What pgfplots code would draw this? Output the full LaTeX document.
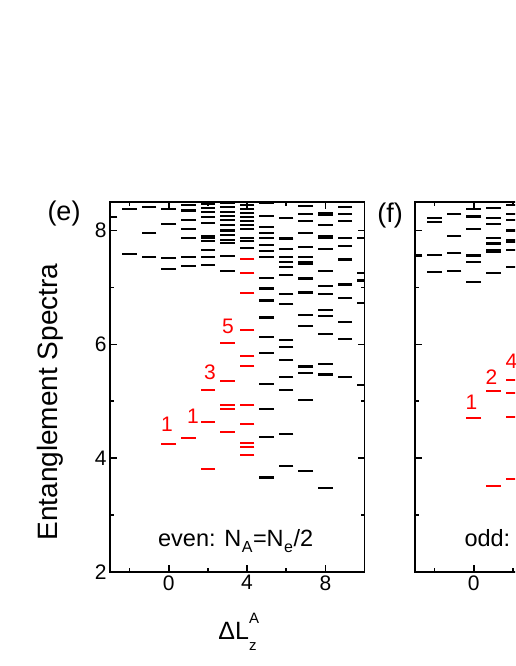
\documentclass[border=0pt]{standalone}
\usepackage{fontspec}
\setmainfont{Liberation Sans}
\usepackage{pgfplots}
\pgfplotsset{compat=1.18}
\pgfplotsset{
  espec/.style={
    scale only axis, width=254.5pt, height=370pt,
    xmin=-3, xmax=10, ymin=2, ymax=8.5,
    xtick={0,4,8}, minor xtick={-2,2,6},
    ytick={2,4,6,8}, minor ytick={3,5,7},
    tick align=inside,
    major tick length=7pt, minor tick length=4pt,
    axis line style={line width=1.8pt},
    every tick/.style={line width=1.6pt, black},
    tick label style={font=\fontsize{21}{21}\selectfont},
    /pgf/number format/assume math mode=true,
    clip marker paths=true,
  },
  dash/.style={only marks, mark=-, mark size=7.3pt, mark options={line width=2.1pt}},
}
\newcommand{\sub}[1]{\kern0.5pt\raisebox{-6pt}{\fontsize{16}{16}\selectfont #1}\kern0.5pt}
\begin{document}
\begin{tikzpicture}
\useasboundingbox (0pt,0pt) rectangle (515pt,666pt);
\clip (0pt,0pt) rectangle (515pt,666pt);
% ---------------- panel (e)
\begin{axis}[espec, at={(110pt,94pt)}, anchor=south west]
\addplot[dash, black] coordinates {
(-3,8.23)
(-2,8.37) (-2,7.59)
(-1,8.41) (-1,7.95) (-1,7.54)
(0,8.38) (0,8.11) (0,7.52) (0,7.33)
(1,8.44) (1,8.35) (1,8.18) (1,8.03) (1,7.87) (1,7.53) (1,7.37)
(2,8.46) (2,8.40) (2,8.32) (2,8.23) (2,8.13) (2,7.91) (2,7.87) (2,7.82) (2,7.65) (2,7.53) (2,7.39)
(3,8.49) (3,8.41) (3,8.33) (3,8.25) (3,8.18) (3,8.10) (3,8.00) (3,7.92) (3,7.84) (3,7.78) (3,7.55) (3,7.29)
(4,8.45) (4,8.38) (4,8.31) (4,8.24) (4,8.17) (4,8.10) (4,8.02) (4,7.87) (4,7.82) (4,7.69)
(5,8.49) (5,8.26) (5,8.06) (5,7.96) (5,7.87) (5,7.75) (5,7.64) (5,7.54) (5,7.17) (5,6.98) (5,6.77) (5,6.47) (5,6.13) (5,5.84) (5,5.31) (5,4.87) (5,4.37) (5,3.66)
(6,8.22) (6,7.87) (6,7.85) (6,7.67) (6,7.53) (6,7.44) (6,7.36) (6,7.22) (6,6.88) (6,6.71) (6,6.07) (6,5.96) (6,5.73) (6,5.43) (6,5.19) (6,4.43) (6,3.86)
(7,8.43) (7,8.29) (7,8.16) (7,7.95) (7,7.71) (7,7.53) (7,7.45) (7,7.41) (7,7.17) (7,7.14) (7,6.91) (7,6.52) (7,6.32) (7,5.61) (7,5.49) (7,5.02) (7,3.77)
(8,8.31) (8,8.27) (8,8.09) (8,7.90) (8,7.87) (8,7.67) (8,7.28) (8,7.02) (8,6.88) (8,6.61) (8,6.50) (8,6.18) (8,5.66) (8,5.47) (8,3.47)
(9,8.41) (9,8.29) (9,8.16) (9,7.87) (9,7.72) (9,7.49) (9,7.05) (9,6.82) (9,6.39) (9,6.09) (9,5.43)
(10,7.87) (10,7.25) (10,7.12) (10,6.72) (10,5.28)
};
\addplot[dash, red] coordinates {
(0,4.25)
(1,4.36)
(2,5.20) (2,4.64) (2,3.81)
(3,6.02) (3,5.35) (3,4.93) (3,4.86) (3,4.46)
(4,7.50) (4,7.25) (4,6.90) (4,6.25) (4,5.79) (4,5.62) (4,4.93) (4,4.60) (4,4.27) (4,4.20) (4,4.06)
};
\begin{scope}[every node/.style={red, font=\fontsize{21}{21}\selectfont}]
\node at (axis cs:-0.09,4.59) {1};
\node at (axis cs:1.24,4.73) {1};
\node at (axis cs:2.11,5.50) {3};
\node at (axis cs:3.03,6.31) {5};
\end{scope}
\node[anchor=base, font=\fontsize{23.5}{23.5}\selectfont, inner sep=0pt] at (axis cs:3.42,2.44)
  {even: N\sub{A}=N\sub{e}/2};
\end{axis}
% ---------------- panel (f)
\begin{axis}[espec, at={(415pt,94pt)}, anchor=south west, yticklabels={}, xticklabels={0,{},{}}]
\addplot[dash, black] coordinates {
(-3,7.56)
(-2,8.22) (-2,8.15) (-2,7.57) (-2,7.27)
(-1,8.29) (-1,7.90) (-1,7.61) (-1,7.28)
(0,8.38) (0,8.26) (0,8.23) (0,8.02) (0,7.56) (0,7.44) (0,7.09)
(1,8.39) (1,8.22) (1,8.12) (1,7.87) (1,7.77) (1,7.66) (1,7.62) (1,7.25)
(2,8.44) (2,8.29) (2,8.18) (2,8.00) (2,7.83) (2,7.80) (2,7.66) (2,7.36)
};
\addplot[dash, red] coordinates {
(0,4.71)
(1,5.18) (1,3.51)
(2,5.37) (2,5.15) (2,4.73) (2,3.63)
};
\begin{scope}[every node/.style={red, font=\fontsize{21}{21}\selectfont}]
\node at (axis cs:-0.12,4.98) {1};
\node at (axis cs:0.90,5.43) {2};
\node at (axis cs:1.93,5.71) {4};
\end{scope}
\node[anchor=base west, font=\fontsize{23.5}{23.5}\selectfont, inner sep=0pt] at (axis cs:-0.48,2.44)
  {odd:};
\end{axis}
% ---------------- outer labels
\node[rotate=90, font=\fontsize{28}{28}\selectfont] at (50pt,264pt) {Entanglement Spectra};
\node[font=\fontsize{27}{27}\selectfont] at (64pt,452pt) {(e)};
\node[font=\fontsize{27}{27}\selectfont] at (390pt,450pt) {(f)};
\node[anchor=base, inner sep=0pt] at (237.5pt,26pt)
  {\fontsize{25}{25}\selectfont ΔL\rlap{\raisebox{16pt}{\fontsize{15}{15}\selectfont A}}\raisebox{-11pt}{\fontsize{15}{15}\selectfont z}};
\end{tikzpicture}
\end{document}
